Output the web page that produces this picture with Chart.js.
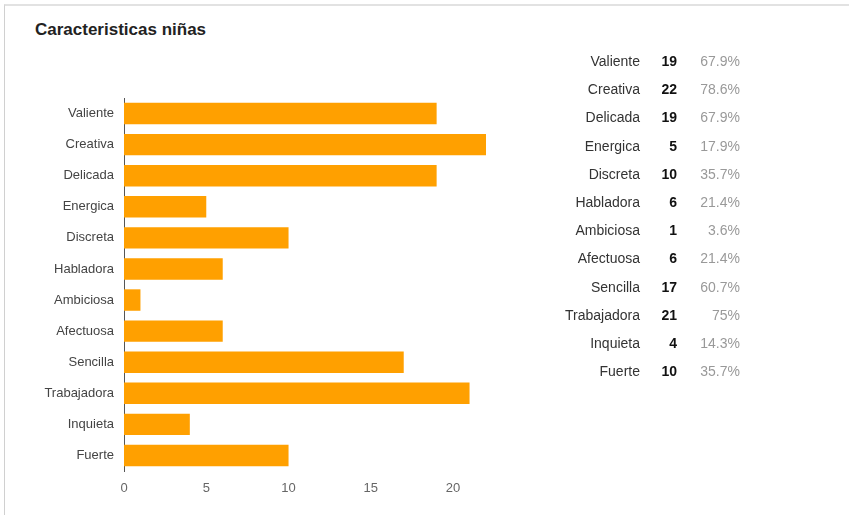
<!DOCTYPE html>
<html>
<head>
<meta charset="utf-8">
<title>Caracteristicas niñas</title>
<script src="https://cdn.jsdelivr.net/npm/chart.js@4.4.0/dist/chart.umd.min.js"></script>
<style>
    html, body { margin: 0; padding: 0; background: #fff; }
    body { width: 857px; height: 515px; position: relative; overflow: hidden; font-family: "Liberation Sans", Arial, sans-serif; }
    .frame { position: absolute; left: 4px; top: 4px; width: 844px; height: 530px; border-top: 2px solid #e2e2e2; border-left: 1px solid #d0d0d0; }
    .title { position: absolute; left: 35px; top: 21px; font-size: 17px; line-height: 17px; font-weight: bold; color: #222; }
    .chart-box { position: absolute; left: 0; top: 0; width: 560px; height: 515px; }
    .summary { position: absolute; left: 540px; top: 47px; font-size: 14px; }
    .summary .row { height: 28.2px; line-height: 28.2px; white-space: nowrap; }
    .summary span { display: inline-block; text-align: right; }
    .summary .lbl { width: 100px; color: #333; }
    .summary .cnt { width: 37px; color: #111; font-weight: bold; }
    .summary .pct { width: 63px; color: #999; }
</style>
</head>
<body>
<div class="frame"></div>
<div class="title">Caracteristicas niñas</div>
<div class="chart-box"><canvas id="bars"></canvas></div>
<div class="summary" id="summary"></div>

<script>
    // Respuestas por característica
    var labels = ["Valiente", "Creativa", "Delicada", "Energica", "Discreta", "Habladora",
                  "Ambiciosa", "Afectuosa", "Sencilla", "Trabajadora", "Inquieta", "Fuerte"];
    var counts = [19, 22, 19, 5, 10, 6, 1, 6, 17, 21, 4, 10];
    var percents = ["67.9%", "78.6%", "67.9%", "17.9%", "35.7%", "21.4%",
                    "3.6%", "21.4%", "60.7%", "75%", "14.3%", "35.7%"];
    var xTicks = [0, 5, 10, 15, 20];

    // Summary table on the right
    var summary = document.getElementById('summary');
    labels.forEach(function (name, i) {
        var row = document.createElement('div');
        row.className = 'row';
        row.innerHTML = '<span class="lbl"></span><span class="cnt"></span><span class="pct"></span>';
        row.children[0].textContent = name;
        row.children[1].textContent = counts[i];
        row.children[2].textContent = percents[i];
        summary.appendChild(row);
    });

    var ctx = document.getElementById('bars').getContext('2d');
    var chart = new Chart(ctx, {
        type: 'bar',
        data: {
            labels: labels,
            datasets: [{
                data: counts,
                backgroundColor: '#ffa000',
                borderWidth: 0,
                barPercentage: 0.69,
                categoryPercentage: 1
            }]
        },
        options: {
            indexAxis: 'y',
            responsive: true,
            maintainAspectRatio: false,
            animation: false,
            layout: {
                padding: { top: 98, right: 74, bottom: 14, left: 0 }
            },
            plugins: {
                legend: { display: false },
                tooltip: { enabled: false }
            },
            scales: {
                x: {
                    min: 0,
                    max: 22,
                    grid: { display: false, drawTicks: false },
                    border: { display: false },
                    afterFit: function (s) { s.height = 30; },
                    afterBuildTicks: function (s) {
                        s.ticks = xTicks.map(function (v) { return { value: v }; });
                    },
                    ticks: {
                        padding: 10,
                        color: '#666',
                        font: { family: 'Liberation Sans', size: 13 }
                    }
                },
                y: {
                    grid: { display: false, drawTicks: false },
                    border: { display: true, color: '#555', width: 1 },
                    afterFit: function (s) { s.width = 124; },
                    ticks: {
                        padding: 10,
                        color: '#444',
                        font: { family: 'Liberation Sans', size: 13 }
                    }
                }
            }
        }
    });
</script>
</body>
</html>
